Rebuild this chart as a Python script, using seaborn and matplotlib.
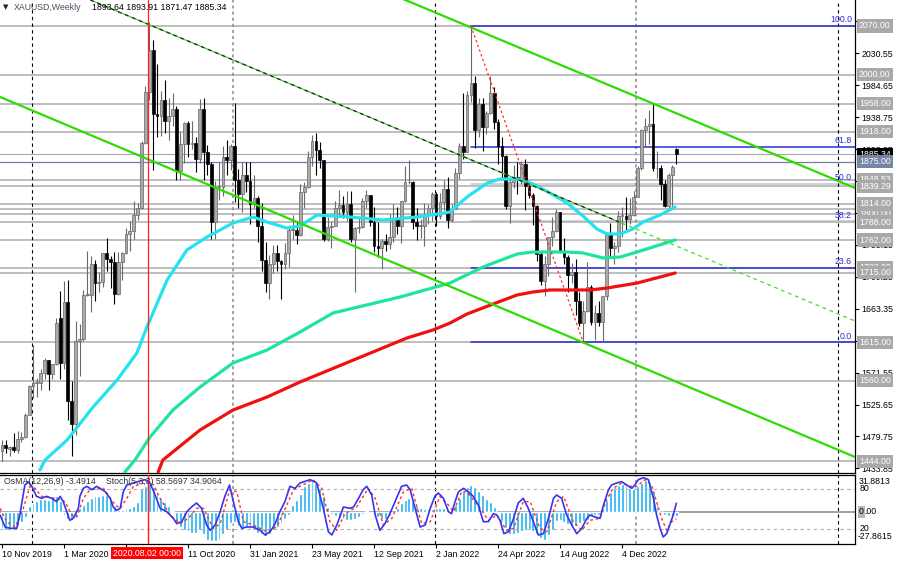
import numpy as np
import pandas as pd
import matplotlib
matplotlib.use("Agg")
import matplotlib.pyplot as plt
import seaborn as sns
from matplotlib import transforms as mtrans

# ---------------- weekly XAUUSD candles (bar 0 = 10 Nov 2019) ----------------
opens = [1459,1468,1462,1464,1460,1476,1479,1511,1552,1557,
         1557,1571,1589,1570,1584,1650,1585,1673,1530,1498,
         1617,1620,1683,1683,1728,1700,1702,1744,1735,1730,
         1685,1730,1743,1771,1775,1798,1808,1902,1975,2035,
         1944,1940,1964,1933,1940,1950,1862,1900,1930,1900,
         1902,1879,1951,1889,1871,1788,1839,1839,1881,1877,
         1898,1849,1828,1855,1847,1814,1823,1783,1734,1700,
         1727,1744,1732,1728,1744,1777,1777,1769,1831,1838,
         1881,1905,1891,1877,1763,1781,1783,1808,1812,1802,
         1814,1763,1780,1781,1818,1827,1788,1754,1750,1761,
         1757,1767,1793,1783,1818,1845,1846,1788,1783,1783,
         1798,1808,1828,1797,1817,1835,1791,1807,1859,1898,
         1889,1970,1988,1921,1958,1925,1945,1974,1932,1897,
         1883,1811,1846,1853,1850,1871,1840,1827,1811,1742,
         1703,1727,1766,1775,1802,1747,1738,1712,1716,1675,
         1643,1660,1694,1644,1657,1644,1681,1771,1751,1754,
         1797,1797,1793,1798,1824,1865,1920,1926,1929,1865,
         1865,1842,1811,1855,1893.64]
highs = [1474,1475,1466,1485,1487,1486,1514,1553,1611,1564,
         1576,1592,1590,1584,1650,1689,1703,1704,1560,1645,
         1642,1690,1747,1739,1734,1716,1744,1765,1739,1745,
         1745,1745,1779,1789,1818,1815,1905,1984,2075,2049,
         2015,1977,1992,1966,1973,1955,1917,1932,1933,1933,
         1910,1965,1966,1899,1875,1847,1875,1897,1906,1900,
         1959,1864,1875,1875,1875,1855,1825,1815,1760,1740,
         1755,1755,1733,1758,1784,1798,1790,1843,1845,1890,
         1913,1916,1903,1877,1795,1789,1818,1834,1825,1832,
         1833,1781,1795,1823,1834,1827,1809,1788,1764,1771,
         1800,1814,1810,1818,1868,1877,1847,1808,1793,1815,
         1814,1831,1831,1830,1848,1853,1814,1865,1902,1974,
         1976,2070,1998,1966,1966,1948,1998,1982,1936,1910,
         1884,1850,1870,1874,1876,1879,1847,1830,1813,1745,
         1739,1767,1795,1807,1802,1765,1740,1729,1735,1688,
         1675,1730,1697,1668,1674,1681,1773,1786,1760,1804,
         1810,1824,1823,1833,1869,1922,1937,1949,1959,1890,
         1870,1848,1859,1870,1893.91]
lows = [1445,1456,1452,1458,1456,1472,1477,1510,1535,1536,
        1546,1563,1547,1562,1582,1563,1576,1504,1451,1482,
        1567,1617,1681,1659,1675,1688,1695,1717,1693,1670,
        1683,1704,1742,1747,1763,1791,1807,1900,1963,1863,
        1910,1911,1916,1906,1926,1849,1848,1873,1882,1893,
        1860,1873,1848,1855,1764,1764,1820,1825,1855,1863,
        1817,1808,1802,1831,1785,1808,1760,1717,1687,1677,
        1714,1717,1677,1721,1724,1763,1757,1768,1808,1837,
        1869,1855,1866,1761,1761,1750,1783,1795,1794,1790,
        1759,1687,1772,1779,1808,1782,1745,1737,1721,1746,
        1749,1760,1771,1758,1817,1842,1778,1762,1765,1753,
        1785,1789,1782,1792,1805,1780,1788,1807,1850,1878,
        1889,1960,1895,1910,1890,1915,1944,1922,1872,1850,
        1807,1787,1837,1829,1843,1805,1822,1784,1732,1697,
        1681,1711,1754,1773,1745,1727,1688,1700,1654,1639,
        1615,1659,1640,1618,1639,1617,1676,1737,1728,1745,
        1766,1773,1785,1797,1824,1863,1896,1900,1861,1852,
        1819,1809,1804,1809,1871.47]
closes = [1468,1463,1464,1460,1476,1479,1511,1552,1557,1557,
          1571,1589,1570,1584,1643,1585,1673,1530,1498,1617,
          1620,1683,1683,1728,1700,1702,1744,1735,1730,1685,
          1730,1743,1771,1775,1798,1808,1902,1975,2035,1944,
          1940,1964,1933,1940,1950,1862,1900,1930,1900,1902,
          1879,1951,1889,1871,1788,1839,1839,1881,1877,1898,
          1849,1828,1855,1847,1814,1823,1783,1734,1700,1727,
          1744,1732,1728,1744,1777,1777,1769,1831,1838,1881,
          1905,1891,1877,1763,1781,1783,1808,1812,1802,1814,
          1763,1780,1781,1818,1827,1788,1754,1750,1761,1757,
          1767,1793,1783,1818,1845,1846,1788,1783,1783,1798,
          1808,1828,1797,1817,1835,1791,1807,1859,1898,1889,
          1970,1988,1921,1958,1925,1945,1974,1932,1897,1883,
          1811,1846,1853,1850,1871,1840,1827,1811,1742,1703,
          1727,1766,1775,1802,1747,1738,1712,1716,1675,1643,
          1660,1694,1644,1657,1644,1681,1771,1751,1754,1797,
          1797,1793,1798,1824,1865,1920,1926,1929,1865,1865,
          1842,1811,1855,1867,1885.34]

# ---------------- moving averages (read at sample bars) ----------------
ma_fast_idx = [9.8,11.1,16.8,23.5,29.7,34.8,37.4,42.6,47.7,52.9,59.6,64.8,68.4,73.5,76.9,
               81.3,89.8,98.3,107.1,115.6,120.0,125.2,128.5,132.9,137.0,141.4,145.8,149.9,
               153.5,156.1,159.5,162.8,165.4,169.8,173.7]
ma_fast_val = [1431.5,1445.8,1474.6,1522.0,1560.9,1599.7,1637.1,1704.6,1747.8,1766.5,1786.6,
               1795.2,1788.0,1779.4,1782.3,1798.1,1795.2,1790.9,1795.2,1802.4,1824.0,1844.1,
               1849.9,1849.9,1842.7,1829.7,1815.4,1796.7,1778.0,1770.8,1770.8,1778.0,1788.0,
               1798.1,1809.6]
ma_mid_idx = [31.7,34.3,38.2,44.1,51.1,59.6,68.4,76.9,85.4,102.7,115.6,124.1,132.9,137.0,
              145.8,149.9,155.1,159.5,163.9,173.7]
ma_mid_val = [1428.6,1445.8,1478.9,1517.7,1550.8,1585.3,1604.0,1629.9,1657.2,1680.2,1700.3,
              1723.3,1742.0,1744.9,1744.9,1743.5,1736.3,1737.7,1744.9,1762.2]
ma_slow_idx = [40.3,41.5,51.1,59.6,68.4,76.9,104.5,111.2,115.6,120.0,126.7,132.9,137.0,141.4,
               151.7,156.1,163.9,173.7]
ma_slow_val = [1428.6,1445.8,1489.0,1517.7,1536.4,1558.0,1621.3,1632.8,1642.8,1655.8,1670.1,
               1683.1,1687.4,1690.3,1690.3,1693.1,1700.3,1714.7]

# ---------------- trend lines (bar index, price) ----------------
chan_low_x, chan_low_y = [-0.5, 220.1], [1967.8, 1450.2]
chan_up_x, chan_up_y = [100.0, 220.1], [2116.7, 1836.9]
mid_line_x, mid_line_y = [22.8, 160.0, 220.1], [2107.2, 1786.3, 1645.7]
fibo_trend_x, fibo_trend_y = [121, 150], [2070.0, 1615.0]

# ---------------- levels ----------------
gray_levels = [2070.0, 2000.0, 1958.0, 1918.0, 1848.53, 1839.29, 1807.0, 1800.0, 1814.0,
               1788.0, 1762.0, 1722.0, 1715.0, 1615.0, 1560.0, 1444.0]
blue_level = 1875.0
bid_price = 1885.34
fibo_names = ["100.0", "61.8", "50.0", "38.2", "23.6", "0.0"]
fibo_prices = [2070.0, 1896.2, 1842.5, 1788.8, 1722.4, 1615.0]
fibo_strong = [True, True, False, False, True, True]
price_ticks = [2076.45, 2030.55, 1984.65, 1938.75, 1892.85, 1846.95, 1801.05, 1755.15,
               1709.25, 1663.35, 1617.45, 1571.55, 1525.65, 1479.75, 1433.85]
separators_black = [7.65, 111.65, 215.65]
separators_gray = [59.65, 163.65]
marker_bar = 37.7

date_ticks = [0, 16, 32, 48, 64, 80, 96, 112, 128, 144, 160]
date_labels = ["10 Nov 2019", "1 Mar 2020", "", "11 Oct 2020", "31 Jan 2021", "23 May 2021",
               "12 Sep 2021", "2 Jan 2022", "24 Apr 2022", "14 Aug 2022", "4 Dec 2022"]

# ---------------- oscillators ----------------
osma = [-14,-16,-16,-14,-12,-9,-5,4.5,7.5,9.5,
        10.5,10.5,10,12,13,9,-3,-6,-7,-5,
        3,6,9,12,13,13.5,14.5,14.5,10.5,4.5,
        1.5,1.5,2.5,3,4.5,8.5,19,22,24,21,
        16.5,12,8.5,4.5,0.5,-9,-13,-16,-17,-18,
        -18,-16,-19,-24,-25,-25,-24,-19,-16,-10,
        -9,-12,-13,-13,-15,-16,-18,-19,-21,-19,
        -16,-13,-10,-6,-3,6,10,15,22,25,
        26,25,20,13,4,-2,-4,-5.5,-6.5,-7,
        -7.5,-6,-4.5,-2.5,0.5,-1,-3,-5,-6,-6,
        -4,-1,3,7,10,12,9,5,3,2.5,
        2,2.5,3,3.5,3,2,2,6,12,18,
        21,23,21,18,14,11,8,4,-1,-8,
        -14,-19,-19,-18,-17,-16,-15,-17,-19,-23,
        -24,-20,-16,-8,-7,-9,-11,-12,-12,-10,
        -8,-7,-4,-3,-3,3,10,17,21,23,
        24,23,20,19,22,25,27,25,17,8,
        1,-3,-4,-3.5,-3.4914]
stoch_main_idx = [-0.5,0.8,2.1,3.8,4.6,5.9,6.8,7.7,8.9,10.2,11.5,12.8,14.1,15.0,15.8,16.7,17.5,
                  18.4,19.7,20.1,21.0,21.9,23.2,24.4,25.3,26.6,27.9,28.7,29.6,30.5,31.3,32.2,
                  33.9,35.6,36.9,38.2,39.5,40.8,42.5,44.2,45.1,46.4,47.7,48.9,50.2,51.5,52.8,
                  53.7,55.0,56.3,57.5,58.7,59.7,61.0,61.9,63.1,64.9,66.6,67.9,69.2,70.5,71.7,
                  73.0,74.3,75.6,76.9,79.5,81.2,82.9,84.2,85.1,86.4,88.1,89.8,90.7,92.0,93.2,
                  94.1,95.4,96.3,97.5,98.8,100.1,101.8,103.1,104.4,105.3,106.6,107.9,109.2,
                  110.5,111.7,112.6,113.9,115.2,116.0,116.9,117.8,119.1,120.3,121.6,122.9,
                  124.2,125.5,126.8,127.7,128.5,129.5,130.7,132.0,133.2,134.5,135.8,137.1,
                  138.4,139.7,141.0,142.3,143.1,144.4,145.7,147.0,148.3,149.6,150.9,151.7,
                  153.0,154.3,155.2,156.5,157.3,158.6,159.9,161.2,162.5,163.3,164.2,165.5,
                  166.8,168.1,168.9,169.8,170.6,171.5,172.4,173.2,174.0]
stoch_main_val = [41,23,21,21,41,86,91,84,69,66,69,66,61,69,61,46,33,36,51,69,81,84,79,84,81,
                  76,66,53,48,51,76,86,89,92,94,89,71,51,46,36,28,31,46,53,59,51,26,18,26,46,
                  69,86,61,31,21,23,23,18,11,16,28,46,61,84,81,89,94,89,51,16,11,26,53,51,53,
                  66,79,84,71,41,18,28,43,66,84,86,79,51,23,26,51,69,74,66,46,43,61,76,81,76,
                  69,56,31,31,43,41,33,13,16,36,59,66,51,31,11,13,36,66,71,66,41,26,13,21,36,
                  41,38,36,56,79,86,89,91,86,81,86,94,97,94,66,41,21,8,13,28,41,58.57]
stoch_sig_idx = [-0.5,1.2,3.4,5.5,7.2,8.5,10.2,13.7,16.3,18.0,19.3,21.0,22.7,26.2,29.2,30.5,
                 32.2,33.9,37.8,39.1,40.8,43.4,45.9,48.1,50.2,52.0,54.5,56.3,58.8,60.6,62.3,
                 64.9,68.3,70.9,73.5,75.2,76.9,80.3,82.5,84.6,86.4,88.5,91.5,94.5,96.3,98.4,
                 100.6,103.6,105.7,108.3,110.5,113.0,115.2,116.5,118.6,119.9,123.4,125.5,
                 127.7,130.2,132.0,134.5,136.3,138.8,140.6,143.1,144.9,147.4,149.6,151.7,
                 154.3,156.0,157.7,159.9,162.0,163.8,165.9,167.6,168.9,170.2,171.5,172.8,174.0]
stoch_sig_val = [51,31,23,51,84,81,69,66,61,41,38,66,79,81,56,51,66,84,91,86,66,41,28,36,51,
                 51,21,28,79,76,31,26,16,23,56,79,84,94,81,31,18,43,53,81,66,26,36,76,81,28,
                 31,69,56,46,76,76,51,33,41,18,21,61,61,21,16,61,69,31,18,33,36,64,81,89,84,
                 84,94,86,61,36,18,31,34.91]

# ---------------- style ----------------
sns.set_theme(style="white")
plt.rcParams['font.family'] = ['Liberation Sans', 'DejaVu Sans']
plt.rcParams['axes.linewidth'] = 0.8
FS = 6.3

W, H = 900, 564
fig = plt.figure(figsize=(9, 5.64), dpi=100)
fig.patch.set_facecolor('white')


def fx(px):
    return px / W


def fy(py):
    return 1 - py / H


ax = fig.add_axes([0, fy(472.5), fx(855), 472.5 / H])
ax2 = fig.add_axes([0, fy(544), fx(855), (544 - 474.5) / H])
for a in (ax, ax2):
    a.set_facecolor('white')
    a.set_xlim(-0.516, 220.1)
    a.grid(False)
    a.spines['left'].set_visible(False)
    for s in ('right', 'bottom', 'top'):
        a.spines[s].set_color('black')
        a.spines[s].set_linewidth(0.9)
ax.spines['top'].set_visible(False)
ax.set_ylim(1427.9, 2107.2)

idx = np.arange(len(closes))
o = np.array(opens, float); h = np.array(highs, float)
l = np.array(lows, float); c = np.array(closes, float)
bull = c >= o

# fibo levels (weak levels sit under the gray levels)
for p, strong in zip(fibo_prices, fibo_strong):
    ax.plot([fibo_trend_x[0], 220.1], [p, p], color='#2b2bd6' if strong else '#c4c4d4',
            lw=1.1, zorder=1.4 if strong else 0.9)
# levels
for p in gray_levels:
    ax.axhline(p, color='#b9b9b9', lw=1.3, zorder=1)
ax.axhline(blue_level, color='#6f7fa6', lw=0.9, zorder=1.2)
ax.axhline(bid_price, color='#a8a8a8', lw=0.8, zorder=1.2)
for xs in separators_black:
    for a in (ax, ax2):
        a.axvline(xs, color='black', lw=0.8, ls=(0, (3, 3)), zorder=1.1)
for xs in separators_gray:
    for a in (ax, ax2):
        a.axvline(xs, color='#8a8a8a', lw=1.1, ls=(0, (2, 2)), zorder=1.1)

# candles
wick_col = np.where(bull, '#6a6a6a', 'black')
ax.vlines(idx, l, h, colors=wick_col, lw=0.8, zorder=2)
body_h = np.maximum(np.abs(c - o), 1.0)
ax.bar(idx, body_h, bottom=np.minimum(o, c), width=0.72,
       color=np.where(bull, '#aaaaaa', 'black'),
       edgecolor=np.where(bull, '#666666', 'black'), linewidth=0.5, zorder=2.2)

# moving averages (seaborn)
sns.lineplot(x=ma_slow_idx, y=ma_slow_val, ax=ax, color='#f01010', lw=2.3, zorder=3)
sns.lineplot(x=ma_mid_idx, y=ma_mid_val, ax=ax, color='#1ee59a', lw=2.3, zorder=3)
sns.lineplot(x=ma_fast_idx, y=ma_fast_val, ax=ax, color='#25e2f0', lw=2.3, zorder=3)

# trend lines
ax.plot(chan_low_x, chan_low_y, color='#2fdc00', lw=1.6, zorder=4)
ax.plot(chan_up_x, chan_up_y, color='#2fdc00', lw=1.6, zorder=4)
ax.plot(mid_line_x[:2], mid_line_y[:2], color='#44cc33', lw=0.9, zorder=4)
ax.plot(mid_line_x[:2], mid_line_y[:2], color='#222222', lw=0.9, ls=(0, (3, 3)), zorder=4.1)
ax.plot(mid_line_x[1:], mid_line_y[1:], color='#44dd22', lw=0.9, ls=(0, (3, 3)), zorder=4)
ax.plot(fibo_trend_x, fibo_trend_y, color='#ff3030', lw=0.9, ls=(0, (2, 2)), zorder=4)

# marker line
for a in (ax, ax2):
    a.axvline(marker_bar, color='#ff2020', lw=0.9, zorder=6)

# right price scale
ax.yaxis.tick_right()
ax.set_yticks(price_ticks)
ax.set_yticklabels([f'{v:.2f}' for v in price_ticks])
ax.tick_params(axis='y', direction='out', length=3, width=0.8, pad=1.5,
               labelsize=FS, colors='black', right=True, left=False)
ax.set_xticks([])

tr = mtrans.blended_transform_factory(ax.transAxes, ax.transData)
box_kw = dict(boxstyle='square,pad=0.25')
for p in gray_levels:
    ax.text(1.0045, p, f'{p:.2f}', transform=tr, ha='left', va='center', fontsize=FS,
            color='white', clip_on=False, zorder=10,
            bbox=dict(fc='#a9a9a9', ec='none', **box_kw))
ax.text(1.0045, bid_price, f'{bid_price:.2f}', transform=tr, ha='left', va='center',
        fontsize=FS, color='white', clip_on=False, zorder=10,
        bbox=dict(fc='black', ec='none', **box_kw))
ax.text(1.0045, blue_level, f'{blue_level:.2f}', transform=tr, ha='left', va='center',
        fontsize=FS, color='white', clip_on=False, zorder=11,
        bbox=dict(fc='#7585a5', ec='none', **box_kw))
for name, p in zip(fibo_names, fibo_prices):
    ax.text(0.9965, p + 2.5, name, transform=tr, ha='right', va='bottom', fontsize=FS,
            color='#2b2bd6', zorder=9)

# ---------------- indicator panel ----------------
ax2.set_ylim(-27.8615, 31.8813)
ax2.bar(idx, osma, width=0.75, color='#1eb0f0', zorder=2)
ax2.axhline(0, color='#a0a0a0', lw=1.4, zorder=1.5)
ax2.set_yticks([])
ax3 = ax2.twinx()
ax3.set_ylim(-2.5, 101.75)
ax3.set_xlim(-0.516, 220.1)
for s in ax3.spines.values():
    s.set_visible(False)
ax3.set_yticks([])
ax3.axhline(80, color='#b0b0b0', lw=0.8, ls=(0, (3, 3)))
ax3.axhline(20, color='#b0b0b0', lw=0.8, ls=(0, (3, 3)))
sns.lineplot(x=stoch_sig_idx, y=stoch_sig_val, ax=ax3, color='#ff3030', lw=1.0,
             linestyle=(0, (2, 2)), zorder=3)
sns.lineplot(x=stoch_main_idx, y=stoch_main_val, ax=ax3, color='#3535f0', lw=1.2, zorder=4)
ax3.axvline(marker_bar, color='#ff2020', lw=0.9, zorder=6)
ax3.set_xlabel(''); ax3.set_ylabel('')
ax.set_xlabel(''); ax.set_ylabel('')

ax2.set_xticks(date_ticks)
ax2.set_xticklabels(date_labels, ha='left')
ax2.tick_params(axis='x', direction='out', length=3, width=0.8, pad=1.5,
                labelsize=FS, colors='black', bottom=True)

# ---------------- texts ----------------
fig.text(fx(3), fy(7.5), '\u25bc', fontsize=5, family='DejaVu Sans', va='center', color='#222222')
fig.text(fx(14), fy(7.5), 'XAUUSD,Weekly', fontsize=FS, va='center', color='#4a5060')
fig.text(fx(92), fy(7.5), '1893.64 1893.91 1871.47 1885.34', fontsize=FS, va='center', color='black')
fig.text(fx(4), fy(481), 'OsMA(12,26,9) -3.4914', fontsize=FS, va='center', color='#333333')
fig.text(fx(106), fy(481), 'Stoch(5,3,3) 58.5697 34.9064', fontsize=FS, va='center', color='#333333')

fig.text(fx(859), fy(481), '31.8813', fontsize=FS, va='center', color='black')
fig.text(fx(860), fy(488.5), '80', fontsize=FS, va='center', color='black')
fig.text(fx(859), fy(512), '0', fontsize=FS, va='center', color='black',
         bbox=dict(boxstyle='square,pad=0.15', fc='#b8b8b8', ec='none'))
fig.text(fx(864.5), fy(512), '.00', fontsize=FS, va='center', color='black')
fig.text(fx(860), fy(528.5), '20', fontsize=FS, va='center', color='black')
fig.text(fx(858), fy(536.5), '-27.8615', fontsize=FS, va='center', color='black')

fig.text(fx(147), fy(553), '2020.08.02 00:00', ha='center', va='center', fontsize=FS,
         color='white', bbox=dict(boxstyle='square,pad=0.2', fc='#ff0000', ec='none'))

fig.savefig('out.png', dpi=100)
